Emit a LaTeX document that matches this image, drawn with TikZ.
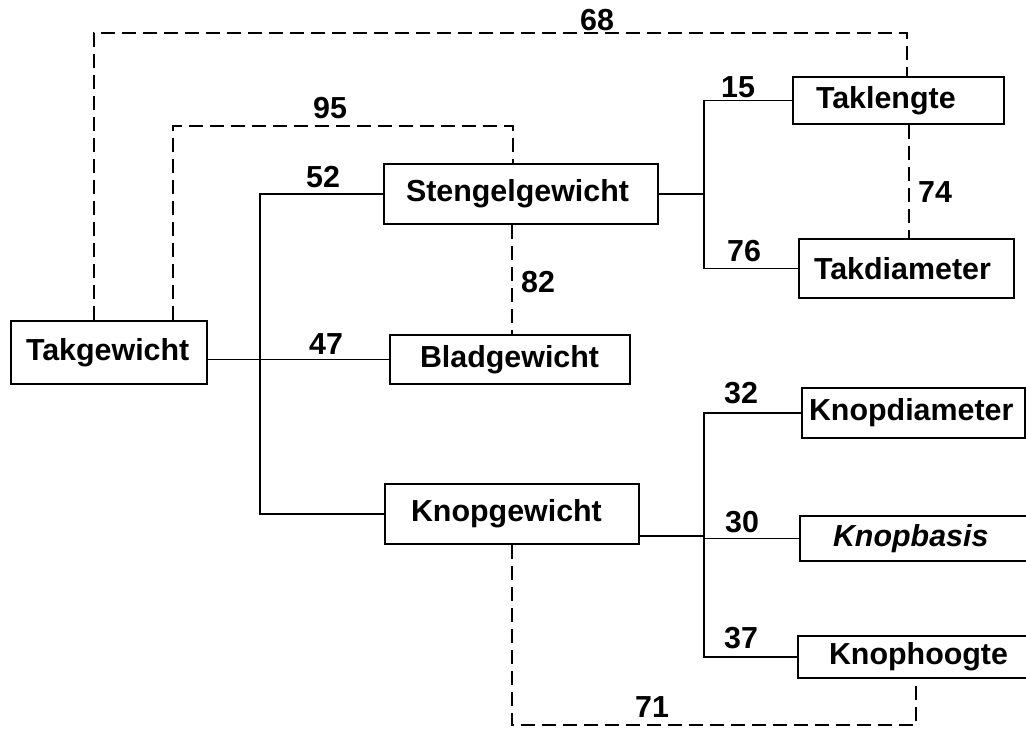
\documentclass[tikz,border=0pt]{standalone}
\usepackage{fontspec}
\setmainfont{Liberation Sans}
\tikzset{
  cell/.style={draw,line width=1pt,font=\fontsize{15.2}{18}\selectfont\bfseries,align=left,anchor=north west,inner ysep=0pt},
  num/.style={font=\fontsize{15.2}{18}\selectfont\bfseries,inner sep=0pt},
  link/.style={line width=0.7pt},
  corr/.style={line width=0.9pt,dash pattern=on 7pt off 3.5pt}
}
\begin{document}
\begin{tikzpicture}[x=0.5pt,y=-0.5pt]
\useasboundingbox (0,0) rectangle (1026,729);
\clip (0,0) rectangle (1026,729);
% boxes
\node[cell,inner xsep=7.5pt,text width=83pt,minimum height=31.5pt] (takg) at (10,320) {Takgewicht};
\node[cell,inner xsep=11pt,text width=115pt,minimum height=30pt] (steng) at (383,163) {Stengelgewicht};
\node[cell,inner xsep=15pt,text width=90pt,minimum height=24.5pt] (blad) at (389,334) {Bladgewicht};
\node[cell,inner xsep=13pt,text width=101pt,minimum height=30pt] (knopg) at (384,483) {Knopgewicht};
\node[cell,inner xsep=11.5pt,text width=82.5pt,minimum height=23.5pt] (takl) at (792,76) {Taklengte};
\node[cell,inner xsep=7.5pt,text width=92.5pt,minimum height=29.5pt] (takd) at (798,238) {Takdiameter};
\node[cell,inner xsep=3.5pt,text width=104.5pt,minimum height=25pt] (knopd) at (801,387) {Knopdiameter};
\node[cell,inner xsep=16.5pt,text width=87.5pt,minimum height=22.5pt] (knopb) at (799,515) {\itshape Knopbasis};
\node[cell,inner xsep=15.5pt,text width=90.5pt,minimum height=21pt] (knoph) at (797,635) {Knophoogte};
% junctions
\coordinate (jl) at (260,350);
\coordinate (jr1) at (704,190);
\coordinate (jr2) at (704,530);
\coordinate (c68) at (907,33);
\coordinate (c95) at (513,126);
\coordinate (v82) at (512,280);
\coordinate (v74) at (909,180);
\coordinate (c71) at (916,725);
% solid links
\draw[link] (takg.east |- blad.west) -- (blad.west);
\draw[link] (steng.west) -| (jl) |- (knopg.west);
\draw[link] (steng.east) -- (steng.east -| jr1);
\draw[link] (takl.west) -| (jr1) |- (takd.west);
\draw[link] ([yshift=4.5pt]knopg.south east) -- ([yshift=4.5pt]knopg.south east -| jr2);
\draw[link] (knopd.west) -| (jr2) |- (knoph.west);
\draw[link] (jr2 |- knopb.west) -- (knopb.west);
% dashed links
\draw[corr] (takg.north west) ++(84,0) |- (c68) -- (c68 |- takl.north);
\draw[corr] (takg.north west) ++(163,0) |- (c95) -- (c95 |- steng.north);
\draw[corr] (v82 |- steng.south) -- (v82 |- blad.north);
\draw[corr] (v74 |- takl.south) -- (v74 |- takd.north);
\draw[corr] (knopg.south) |- (c71) -- (c71 |- knoph.south);
% labels
\node[num] (l68) at (597,20) {68};
\node[num] (l95) at (330,108) {95};
\node[num] (l52) at (323,177) {52};
\node[num] (l47) at (326,344) {47};
\node[num] (l82) at (538,282) {82};
\node[num] (l15) at (738,87) {15};
\node[num] (l76) at (744,251) {76};
\node[num] (l74) at (935,192) {74};
\node[num] (l32) at (741,393) {32};
\node[num] (l30) at (742,522) {30};
\node[num] (l37) at (741,638) {37};
\node[num] (l71) at (652,707) {71};
\end{tikzpicture}
\end{document}
